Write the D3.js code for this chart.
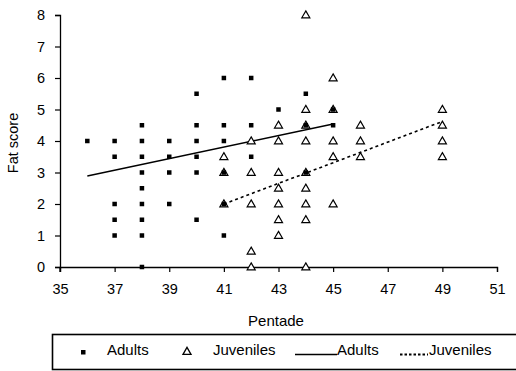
<!DOCTYPE html>
<html>
<head>
<meta charset="utf-8">
<script src="https://cdn.jsdelivr.net/npm/d3@7"></script>
<style>
  html, body { margin: 0; padding: 0; background: #fff; }
  svg { display: block; font-family: "Liberation Sans", Arial, sans-serif; }
</style>
</head>
<body>
<svg id="chart" width="516" height="371"></svg>
<script>
// ---- data ----
const adultPentade = [36, 37,37,37,37,37, 38,38,38,38,38,38,38,38,38, 39,39,39,39, 40,40,40,40,40,40, 41,41,41,41,41,41, 42,42,42, 43, 44,44,44, 45,45];
const adultFat     = [4,  4,3.5,2,1.5,1,  4.5,4,3.5,3,2.5,2,1.5,1,0,  4,3.5,3,2,     5.5,4.5,4,3.5,3,1.5,  6,4.5,4,3,2,1,     6,4.5,3.5, 5,  5.5,4.5,3,    5,4.5];
const juvPentade = [41,41,41, 42,42,42,42,42, 43,43,43,43,43,43,43, 44,44,44,44,44,44,44,44,44, 45,45,45,45,45, 46,46,46, 49,49,49,49];
const juvFat     = [3.5,3,2,  4,3,2,0.5,0,    4.5,4,3,2.5,2,1.5,1,  8,5,4.5,4,3,2.5,2,1.5,0,    6,5,4,3.5,2,  4.5,4,3.5, 5,4.5,4,3.5];
const adultTrendX = [36, 45];
const adultTrendY = [2.89, 4.54];
const juvTrendX = [41, 49];
const juvTrendY = [2.0, 4.62];
const xTicks = [35, 37, 39, 41, 43, 45, 47, 49, 51];
const yTicks = [0, 1, 2, 3, 4, 5, 6, 7, 8];
const legendLabels = ["Adults", "Juveniles", "Adults", "Juveniles"];

// ---- layout ----
const FONT = "'Liberation Sans', Arial, sans-serif";
const svg = d3.select("#chart");
const x = d3.scaleLinear().domain([35, 51]).range([60, 497]);
const y = d3.scaleLinear().domain([0, 8]).range([267, 15]);

// axes
const xAxis = svg.append("g").attr("transform", "translate(0,267)")
  .call(d3.axisBottom(x).tickValues(xTicks).tickSize(5).tickPadding(12).tickFormat(d3.format("d")));
const yAxis = svg.append("g").attr("transform", "translate(60,0)")
  .call(d3.axisLeft(y).tickValues(yTicks).tickSize(5).tickPadding(10).tickFormat(d3.format("d")));
[xAxis, yAxis].forEach(g => {
  g.select(".domain").attr("stroke", "#000").attr("stroke-width", 1.3);
  g.selectAll(".tick line").attr("stroke", "#000").attr("stroke-width", 1.2);
  g.selectAll(".tick text").attr("fill", "#000").style("font-size", "14.5px").style("font-family", FONT);
});
// y-axis extends down through the x axis slightly
svg.append("line").attr("x1", 60).attr("x2", 60).attr("y1", 267).attr("y2", 272)
  .attr("stroke", "#000").attr("stroke-width", 1.3);

// axis titles
svg.append("text").attr("x", 276).attr("y", 326).attr("text-anchor", "middle")
  .style("font-size", "15px").text("Pentade");
svg.append("text").attr("transform", "translate(18,143) rotate(-90)").attr("text-anchor", "middle")
  .style("font-size", "14.5px").text("Fat score");

// trend lines
const line = d3.line().x(d => x(d[0])).y(d => y(d[1]));
svg.append("path").datum(adultTrendX.map((v, i) => [v, adultTrendY[i]]))
  .attr("d", line).attr("fill", "none").attr("stroke", "#000").attr("stroke-width", 1.4);
svg.append("path").datum(juvTrendX.map((v, i) => [v, juvTrendY[i]]))
  .attr("d", line).attr("fill", "none").attr("stroke", "#000").attr("stroke-width", 1.6)
  .attr("stroke-dasharray", "3,3");

// juvenile triangles
const tri = d3.symbol().type(d3.symbolTriangle).size(28);
svg.append("g").selectAll("path").data(juvPentade.map((v, i) => [v, juvFat[i]])).join("path")
  .attr("d", tri).attr("transform", d => `translate(${x(d[0])},${y(d[1]) + 0.5})`)
  .attr("fill", "#fff").attr("stroke", "#000").attr("stroke-width", 1.2);

// adult squares
svg.append("g").selectAll("rect").data(adultPentade.map((v, i) => [v, adultFat[i]])).join("rect")
  .attr("x", d => x(d[0]) - 2.25).attr("y", d => y(d[1]) - 2.25)
  .attr("width", 4.5).attr("height", 4.5).attr("fill", "#000");

// legend
const lg = svg.append("g");
lg.append("rect").attr("x", 52.5).attr("y", 334.5).attr("width", 470).attr("height", 35)
  .attr("fill", "#fff").attr("stroke", "#000").attr("stroke-width", 1.6);
const ly = 355;
lg.append("rect").attr("x", 81).attr("y", ly - 5).attr("width", 4.5).attr("height", 4.5).attr("fill", "#000");
lg.append("path").attr("d", tri).attr("transform", `translate(187,${ly - 3})`)
  .attr("fill", "#fff").attr("stroke", "#000").attr("stroke-width", 1.3);
lg.append("line").attr("x1", 295).attr("x2", 337).attr("y1", ly - 0.5).attr("y2", ly - 0.5)
  .attr("stroke", "#000").attr("stroke-width", 1.6);
lg.append("line").attr("x1", 400).attr("x2", 428).attr("y1", ly - 0.5).attr("y2", ly - 0.5)
  .attr("stroke", "#000").attr("stroke-width", 1.8).attr("stroke-dasharray", "2.5,2");
const lx = [107, 213, 337, 429];
lg.selectAll("text.lab").data(legendLabels).join("text").attr("class", "lab")
  .attr("x", (d, i) => lx[i]).attr("y", ly).style("font-size", "15px").text(d => d);
</script>
</body>
</html>
